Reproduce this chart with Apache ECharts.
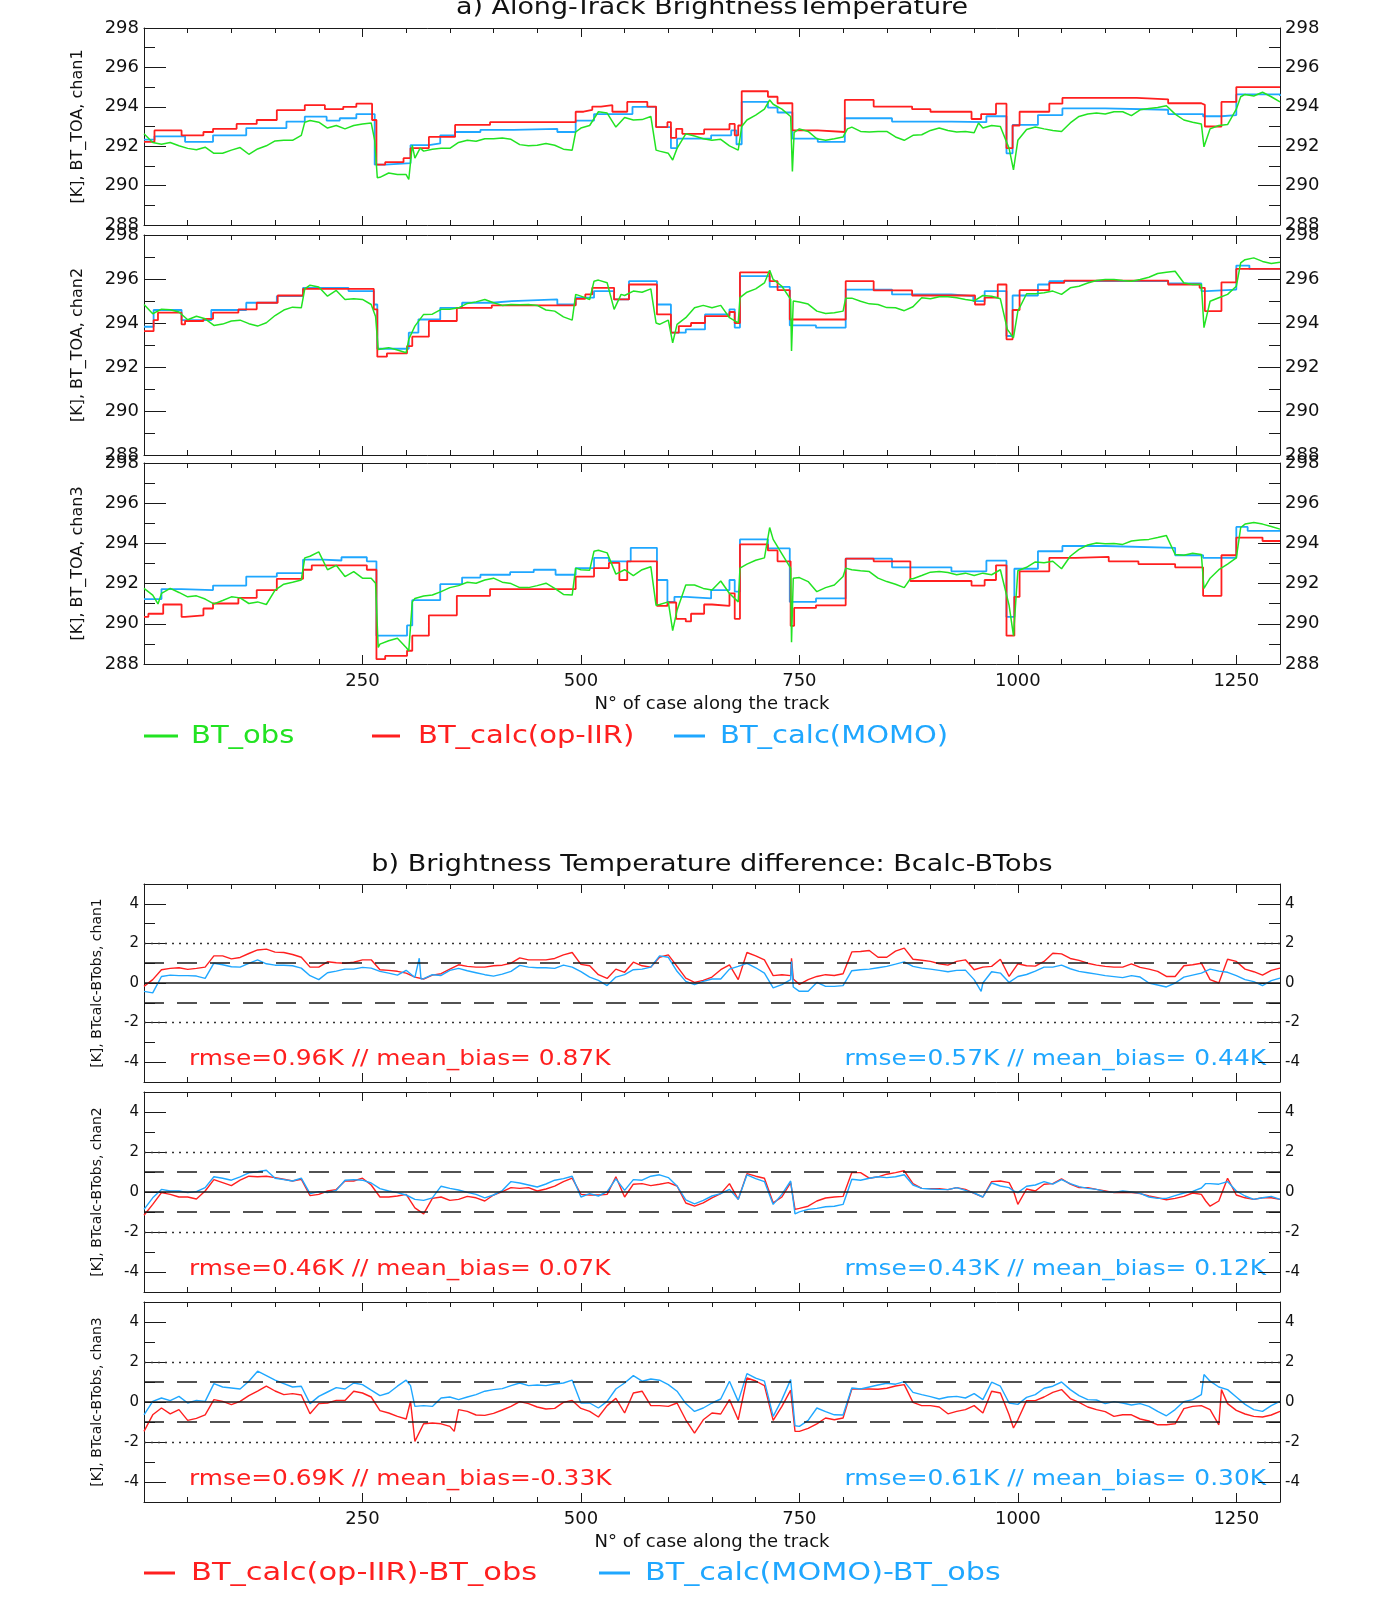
<!DOCTYPE html>
<html><head><meta charset="utf-8">
<script src="https://cdn.jsdelivr.net/npm/echarts@6/dist/echarts.min.js"></script>
<style>html,body{margin:0;padding:0;background:#fff}#c{width:1382px;height:1618px}</style>
</head><body><div id="c"></div>
<script>
// ---------------- DATA ----------------
const xRange = [0, 1300];
const xTickLabels = [250, 500, 750, 1000, 1250];
const btRange = [288, 298];
const diffRange = [-5, 5];
const diffTicks = [-4, -2, 0, 2, 4];
const xName = 'N° of case along the track';
const titleA = 'a) Along-Track BrightnessTemperature';
const titleB = 'b) Brightness Temperature difference: Bcalc-BTobs';
const btNames = ['[K], BT_TOA, chan1', '[K], BT_TOA, chan2', '[K], BT_TOA, chan3'];
const diffNames = ['[K], BTcalc-BTobs, chan1', '[K], BTcalc-BTobs, chan2', '[K], BTcalc-BTobs, chan3'];
const legendTop = ['BT_obs', 'BT_calc(op-IIR)', 'BT_calc(MOMO)'];
const legendBottom = ['BT_calc(op-IIR)-BT_obs', 'BT_calc(MOMO)-BT_obs'];
const statsRed = ['rmse=0.96K // mean_bias= 0.87K', 'rmse=0.46K // mean_bias= 0.07K', 'rmse=0.69K // mean_bias=-0.33K'];
const statsBlue = ['rmse=0.57K // mean_bias= 0.44K', 'rmse=0.43K // mean_bias= 0.12K', 'rmse=0.61K // mean_bias= 0.30K'];

// channel 1 : [case, K]
const c1Red = [[0,292.22],[12,292.8],[43,292.55],[68,292.72],[79,292.88],[106,293.13],[129,293.33],[152,293.83],[184,294.08],[207,293.88],[228,294.0],[243,294.16],[261,293.33],[266,291.06],[276,291.19],[297,291.39],[305,291.9],[326,292.47],[356,293.08],[396,293.22],[494,293.75],[503,293.85],[513,294.01],[523,294.08],[536,293.75],[553,294.25],[576,294.01],[586,292.97],[599,293.22],[603,292.42],[609,292.88],[616,292.63],[641,292.85],[670,293.13],[676,292.55],[680,293.05],[684,294.79],[714,294.51],[725,294.18],[742,292.8],[771,292.72],[802,294.35],[835,294.01],[879,293.88],[900,293.75],[947,293.38],[958,293.63],[975,294.16],[987,291.9],[994,293.05],[1002,293.75],[1036,294.16],[1051,294.45],[1136,294.38],[1172,294.18],[1210,294.1],[1214,293.0],[1233,294.25],[1250,295.0],[1300,295.0]];
const c1Blue = [[0,292.33],[12,292.5],[47,292.22],[79,292.55],[117,292.92],[163,293.25],[184,293.5],[209,293.3],[224,293.42],[243,293.63],[264,291.06],[276,291.14],[305,292.05],[326,292.14],[339,292.55],[356,292.72],[385,292.83],[423,292.88],[473,292.72],[494,293.3],[515,293.63],[559,294.0],[586,292.97],[603,291.9],[610,292.38],[649,292.55],[672,292.8],[678,292.1],[684,294.25],[714,293.96],[725,293.71],[742,292.38],[771,292.22],[802,293.42],[856,293.25],[924,293.22],[964,293.52],[987,291.64],[994,293.08],[1023,293.58],[1051,293.92],[1100,293.85],[1172,293.63],[1212,293.52],[1233,293.58],[1250,294.63],[1300,294.55]];
const c1Obs = [[0,292.63],[10,292.19],[20,292.1],[30,292.19],[40,292.02],[50,291.89],[60,291.82],[70,291.95],[80,291.64],[90,291.64],[100,291.8],[110,291.93],[120,291.59],[130,291.86],[140,292.02],[150,292.27],[160,292.3],[170,292.3],[180,292.55],[184,293.22],[190,293.3],[200,293.22],[210,292.92],[220,293.05],[230,292.88],[240,293.05],[250,293.13],[260,293.18],[264,292.3],[267,290.4],[270,290.42],[280,290.64],[290,290.56],[300,290.56],[303,290.31],[307,292.05],[310,291.39],[316,291.9],[320,291.75],[330,291.85],[340,291.89],[350,291.89],[360,292.19],[370,292.3],[380,292.25],[390,292.38],[400,292.38],[410,292.42],[420,292.35],[430,292.08],[440,292.02],[450,292.05],[460,292.14],[470,292.05],[480,291.85],[490,291.8],[494,292.72],[500,292.92],[510,293.05],[520,293.75],[530,293.68],[540,292.97],[550,293.46],[560,293.33],[570,293.35],[580,293.51],[586,291.8],[590,291.75],[600,291.64],[605,291.3],[610,291.89],[620,292.63],[630,292.52],[640,292.38],[650,292.3],[660,292.35],[670,292.02],[680,291.8],[684,293.0],[690,293.33],[700,293.58],[710,293.88],[716,294.35],[720,294.13],[730,293.88],[740,293.51],[742,290.72],[744,292.7],[750,292.88],[760,292.75],[770,292.38],[780,292.3],[790,292.38],[800,292.47],[805,292.88],[810,292.97],[820,292.75],[830,292.72],[840,292.75],[850,292.75],[860,292.47],[870,292.3],[880,292.55],[890,292.58],[900,292.8],[910,292.92],[920,292.8],[930,292.72],[940,292.75],[950,292.68],[955,293.18],[960,292.92],[970,293.05],[980,293.0],[990,291.89],[995,290.8],[1000,292.3],[1010,292.85],[1020,292.97],[1030,292.88],[1040,292.8],[1050,292.75],[1060,293.18],[1070,293.51],[1080,293.63],[1090,293.68],[1100,293.63],[1110,293.75],[1120,293.75],[1130,293.55],[1140,293.85],[1150,293.91],[1160,293.96],[1170,294.05],[1180,293.63],[1190,293.33],[1200,293.22],[1210,293.13],[1213,291.97],[1220,292.88],[1230,293.05],[1240,293.1],[1250,293.88],[1255,294.51],[1260,294.63],[1270,294.55],[1280,294.74],[1290,294.51],[1300,294.25]];

// channel 2
const c2Red = [[0,293.63],[11,294.13],[16,294.47],[43,293.94],[47,294.09],[68,294.19],[79,294.47],[108,294.62],[129,294.92],[153,295.25],[182,295.55],[263,294.62],[267,292.47],[278,292.62],[301,292.95],[307,293.38],[326,294.09],[358,294.69],[398,294.8],[494,295.1],[505,295.3],[513,295.6],[538,295.07],[555,295.75],[587,294.39],[603,293.56],[612,293.86],[626,294.0],[642,294.31],[670,294.5],[676,294.0],[682,296.3],[716,295.9],[725,295.49],[739,294.16],[803,295.9],[835,295.48],[879,295.25],[951,294.84],[962,295.15],[977,295.75],[987,293.26],[994,294.59],[1002,295.49],[1036,295.82],[1053,295.93],[1172,295.75],[1208,295.6],[1214,294.54],[1233,295.85],[1250,296.46],[1300,296.46]];
const c2Blue = [[0,293.83],[11,294.59],[43,294.13],[77,294.59],[117,294.92],[152,295.22],[182,295.6],[234,295.45],[263,294.84],[267,292.83],[303,293.56],[314,294.16],[339,294.69],[364,294.92],[398,294.99],[421,295.07],[473,294.84],[494,295.15],[515,295.45],[538,295.07],[555,295.9],[587,294.84],[603,293.56],[620,293.71],[642,294.39],[670,294.62],[676,293.79],[682,296.13],[716,295.64],[739,293.89],[769,293.79],[803,295.52],[856,295.3],[924,295.22],[949,294.99],[962,295.45],[987,293.41],[994,295.25],[1023,295.75],[1036,295.9],[1172,295.8],[1210,295.45],[1216,295.52],[1250,296.61],[1265,296.46],[1300,296.46]];
const c2Obs = [[0,294.84],[10,294.42],[20,294.63],[30,294.6],[40,294.5],[50,294.15],[60,294.31],[70,294.19],[80,293.89],[90,293.95],[100,294.09],[110,294.13],[120,293.97],[130,293.86],[140,294.01],[150,294.34],[160,294.59],[170,294.72],[180,294.69],[184,295.55],[190,295.72],[200,295.64],[210,295.22],[220,295.48],[230,295.07],[240,295.1],[250,295.07],[260,294.84],[265,294.3],[268,292.8],[270,292.82],[280,292.88],[290,292.77],[300,292.65],[303,293.26],[310,293.86],[320,294.39],[330,294.4],[340,294.62],[350,294.62],[360,294.69],[370,294.89],[380,294.96],[390,295.07],[400,294.92],[410,294.8],[420,294.84],[430,294.83],[440,294.84],[450,294.8],[460,294.59],[470,294.54],[480,294.28],[490,294.13],[494,295.3],[500,295.22],[510,295.07],[515,295.9],[520,295.95],[530,295.83],[538,294.62],[540,294.59],[546,295.3],[550,295.25],[560,295.45],[570,295.4],[580,295.55],[586,294.0],[590,293.94],[600,294.13],[605,293.1],[610,293.94],[620,294.24],[630,294.69],[640,294.8],[650,294.69],[660,294.8],[670,294.24],[680,294.01],[682,295.15],[690,295.4],[700,295.55],[710,295.82],[716,296.4],[720,295.98],[730,295.67],[740,295.07],[741,292.73],[743,295.0],[750,294.95],[760,294.86],[770,294.54],[780,294.43],[790,294.47],[800,294.54],[803,295.13],[810,295.13],[820,294.99],[830,294.87],[840,294.84],[850,294.7],[860,294.69],[870,294.56],[880,294.74],[890,295.15],[900,295.1],[910,295.19],[920,295.19],[930,295.15],[940,295.07],[950,295.01],[960,295.25],[970,295.22],[980,295.1],[988,293.71],[995,293.33],[1000,294.54],[1010,295.33],[1020,295.33],[1030,295.37],[1040,295.45],[1050,295.3],[1060,295.6],[1070,295.67],[1080,295.82],[1090,295.93],[1100,295.98],[1110,295.98],[1120,295.93],[1130,295.9],[1140,295.98],[1150,296.08],[1160,296.25],[1170,296.31],[1180,296.35],[1190,295.82],[1200,295.75],[1210,295.75],[1213,293.79],[1220,294.99],[1230,295.15],[1240,295.3],[1250,295.67],[1255,296.73],[1260,296.88],[1270,296.96],[1280,296.8],[1290,296.7],[1300,296.76]];

// channel 3
const c3Red = [[0,290.34],[5,290.5],[22,290.96],[43,290.34],[47,290.42],[68,290.76],[79,291.01],[108,291.29],[129,291.68],[152,292.24],[182,292.69],[192,292.91],[255,292.69],[266,288.24],[276,288.4],[301,288.66],[307,289.41],[326,290.42],[358,291.39],[396,291.73],[494,292.35],[515,292.77],[532,293.03],[544,292.18],[553,293.11],[587,290.89],[599,291.06],[609,290.25],[620,290.12],[626,290.5],[641,290.96],[650,290.89],[670,291.51],[676,290.25],[682,293.95],[714,293.65],[725,293.11],[740,289.9],[744,290.79],[769,290.92],[803,293.24],[835,293.11],[877,292.13],[947,291.9],[962,292.18],[975,292.91],[987,289.41],[996,291.34],[1002,292.61],[1036,293.28],[1066,293.33],[1104,293.11],[1138,292.97],[1180,292.81],[1212,291.39],[1233,293.41],[1250,294.29],[1280,294.12],[1300,294.12]];
const c3Blue = [[0,291.23],[20,291.73],[43,291.68],[79,291.9],[117,292.35],[152,292.52],[182,293.19],[205,293.15],[226,293.31],[255,293.11],[266,289.41],[301,289.92],[307,291.18],[339,291.97],[364,292.3],[385,292.44],[419,292.57],[446,292.69],[471,292.44],[494,292.77],[515,293.28],[532,293.11],[557,293.78],[587,292.18],[599,291.09],[607,291.34],[620,291.26],[649,291.68],[670,292.18],[676,291.6],[682,294.2],[714,293.75],[739,291.09],[769,291.26],[803,293.24],[856,292.81],[924,292.61],[964,293.14],[987,290.34],[996,292.74],[1023,293.61],[1051,293.87],[1100,293.78],[1180,293.41],[1212,293.28],[1250,294.82],[1263,294.62],[1300,294.62]];
const c3Obs = [[0,291.76],[10,291.43],[16,290.99],[20,291.51],[30,291.76],[40,291.56],[50,291.34],[60,291.39],[70,291.23],[80,290.99],[90,291.16],[100,291.34],[110,291.29],[120,291.01],[130,291.09],[140,290.96],[150,291.68],[160,291.97],[170,292.07],[180,292.18],[184,293.28],[190,293.36],[200,293.58],[210,292.69],[220,292.91],[230,292.35],[240,292.6],[250,292.27],[260,292.27],[265,292.02],[268,288.82],[270,288.99],[280,289.16],[290,289.28],[300,288.82],[303,288.66],[307,291.09],[310,291.26],[320,291.38],[330,291.43],[340,291.6],[350,291.8],[360,291.9],[370,292.07],[380,292.02],[390,292.18],[400,292.27],[410,292.07],[420,292.0],[430,291.8],[440,291.8],[450,291.9],[460,292.02],[470,291.76],[480,291.46],[490,291.43],[494,292.77],[500,292.69],[510,292.67],[515,293.61],[520,293.66],[530,293.53],[540,292.47],[550,292.69],[560,292.4],[570,292.69],[580,292.84],[586,290.92],[590,290.96],[600,291.09],[605,289.66],[610,290.67],[620,291.93],[630,291.93],[640,291.76],[650,291.68],[660,292.13],[670,291.51],[680,291.09],[682,292.77],[690,292.97],[700,293.16],[710,293.28],[716,294.79],[720,294.2],[730,293.48],[740,292.77],[741,289.08],[743,292.27],[750,292.3],[760,292.1],[770,291.6],[780,291.8],[790,291.93],[800,292.35],[803,292.77],[810,292.69],[820,292.64],[830,292.6],[840,292.27],[850,292.1],[860,291.97],[870,291.8],[877,292.24],[880,292.24],[890,292.4],[900,292.57],[910,292.6],[920,292.55],[930,292.44],[940,292.52],[950,292.4],[960,292.52],[970,292.44],[980,292.69],[990,290.92],[995,289.41],[1000,292.64],[1010,292.81],[1020,293.08],[1030,293.04],[1040,293.11],[1050,292.74],[1060,293.36],[1070,293.7],[1080,293.92],[1090,294.02],[1100,293.98],[1110,294.0],[1120,293.95],[1130,294.12],[1140,294.17],[1150,294.2],[1160,294.29],[1170,294.39],[1180,293.45],[1190,293.41],[1200,293.51],[1210,293.45],[1213,291.76],[1220,292.27],[1230,292.69],[1240,292.97],[1250,293.28],[1255,294.79],[1260,294.96],[1270,295.04],[1280,294.96],[1290,294.84],[1300,294.71]];

// differences (calc - obs), [case, K]
const d1Red = [[0,-0.17],[10,0.17],[20,0.67],[30,0.74],[40,0.77],[50,0.69],[60,0.74],[70,0.8],[80,1.37],[90,1.37],[100,1.22],[110,1.29],[120,1.49],[130,1.67],[140,1.71],[150,1.56],[160,1.54],[170,1.44],[180,1.3],[190,0.8],[200,0.8],[210,1.07],[220,1.02],[230,1.0],[240,1.05],[250,1.17],[260,1.17],[270,0.67],[280,0.64],[290,0.59],[300,0.5],[310,0.3],[320,0.2],[330,0.4],[340,0.47],[350,0.7],[360,0.92],[370,0.84],[380,0.8],[390,0.8],[400,0.87],[410,0.9],[420,1.0],[430,1.27],[440,1.17],[450,1.17],[460,1.17],[470,1.24],[480,1.42],[490,1.54],[500,0.94],[510,0.87],[520,0.42],[530,0.23],[540,0.7],[550,0.54],[560,1.05],[570,0.87],[580,0.8],[590,1.3],[600,1.42],[610,0.84],[620,0.25],[630,0.03],[640,0.13],[650,0.3],[660,0.67],[670,0.92],[680,0.17],[690,1.54],[700,1.37],[710,1.17],[720,0.37],[730,0.42],[740,0.37],[741,1.25],[743,0.2],[750,-0.07],[760,0.17],[770,0.33],[780,0.42],[790,0.38],[800,0.47],[810,1.57],[820,1.59],[830,1.64],[840,1.3],[850,1.3],[860,1.61],[870,1.76],[880,1.2],[890,1.15],[900,1.09],[910,0.97],[920,0.9],[930,1.09],[940,1.17],[950,0.67],[960,0.8],[970,0.84],[980,1.2],[990,0.33],[1000,0.97],[1010,0.87],[1020,0.85],[1030,1.09],[1040,1.5],[1050,1.47],[1060,1.24],[1070,1.14],[1080,1.0],[1090,0.9],[1100,0.84],[1110,0.8],[1120,0.8],[1130,0.97],[1140,0.79],[1150,0.7],[1160,0.59],[1170,0.33],[1180,0.33],[1190,0.87],[1200,0.92],[1210,1.0],[1220,0.17],[1230,0.0],[1240,1.2],[1250,1.09],[1260,0.7],[1270,0.57],[1280,0.4],[1290,0.64],[1300,0.75]];
const d1Blue = [[0,-0.42],[10,-0.5],[20,0.33],[30,0.4],[40,0.37],[50,0.37],[60,0.35],[70,0.23],[80,1.0],[90,0.92],[100,0.82],[110,0.8],[120,0.99],[130,1.17],[140,0.97],[150,0.9],[160,0.9],[170,0.87],[180,0.75],[190,0.37],[200,0.17],[210,0.52],[220,0.6],[230,0.7],[240,0.7],[250,0.79],[260,0.75],[270,0.59],[280,0.5],[290,0.4],[300,0.64],[310,0.28],[315,1.25],[317,0.2],[320,0.22],[330,0.42],[340,0.38],[350,0.64],[360,0.74],[370,0.62],[380,0.52],[390,0.42],[400,0.35],[410,0.45],[420,0.59],[430,0.89],[440,0.8],[450,0.77],[460,0.77],[470,0.74],[480,0.9],[490,0.8],[500,0.57],[510,0.3],[520,0.13],[530,-0.13],[540,0.3],[550,0.42],[560,0.67],[570,0.7],[580,0.8],[590,1.37],[600,1.3],[610,0.59],[620,0.08],[630,-0.08],[640,0.08],[650,0.2],[660,0.2],[670,0.7],[680,0.84],[690,0.99],[700,0.77],[710,0.5],[720,-0.25],[730,-0.08],[740,0.17],[741,1.09],[743,-0.2],[750,-0.42],[760,-0.42],[770,0.03],[780,-0.17],[790,-0.17],[800,-0.13],[810,0.62],[820,0.67],[830,0.7],[840,0.77],[850,0.84],[860,0.95],[870,1.07],[880,0.84],[890,0.75],[900,0.7],[910,0.64],[920,0.57],[930,0.64],[940,0.65],[950,0.17],[958,-0.42],[960,0.0],[970,0.57],[980,0.5],[990,0.03],[1000,0.33],[1010,0.43],[1020,0.6],[1030,0.8],[1040,0.8],[1050,0.9],[1060,0.72],[1070,0.59],[1080,0.52],[1090,0.45],[1100,0.37],[1110,0.32],[1120,0.27],[1130,0.37],[1140,0.3],[1150,0.0],[1160,-0.1],[1170,-0.2],[1180,0.0],[1190,0.3],[1200,0.4],[1210,0.5],[1220,0.7],[1230,0.6],[1240,0.54],[1250,0.37],[1260,0.17],[1270,0.07],[1280,-0.13],[1290,0.12],[1300,0.25]];
const d2Red = [[0,-1.16],[10,-0.62],[20,-0.03],[30,-0.12],[40,-0.25],[50,-0.25],[60,-0.35],[70,0.05],[80,0.62],[90,0.47],[100,0.32],[110,0.59],[120,0.79],[130,0.76],[140,0.79],[150,0.72],[160,0.64],[170,0.55],[180,0.64],[190,-0.18],[200,-0.12],[210,0.05],[220,0.12],[230,0.55],[240,0.55],[250,0.69],[260,0.35],[270,-0.25],[280,-0.25],[290,-0.2],[300,-0.12],[310,-0.79],[320,-1.09],[330,-0.32],[340,-0.25],[350,-0.42],[360,-0.37],[370,-0.22],[380,-0.29],[390,-0.45],[400,-0.15],[410,0.02],[420,0.22],[430,0.18],[440,0.22],[450,0.05],[460,0.15],[470,0.29],[480,0.52],[490,0.69],[500,-0.12],[510,-0.15],[520,-0.15],[530,-0.12],[540,0.76],[550,-0.25],[560,0.39],[570,0.42],[580,0.32],[590,0.39],[600,0.47],[610,0.3],[620,-0.55],[630,-0.71],[640,-0.54],[650,-0.29],[660,-0.08],[670,0.42],[680,-0.37],[690,0.92],[700,0.79],[710,0.69],[720,-0.54],[730,-0.25],[740,0.47],[745,-0.87],[750,-0.82],[760,-0.71],[770,-0.45],[780,-0.3],[790,-0.25],[800,-0.22],[810,0.97],[820,0.97],[830,0.69],[840,0.76],[850,0.89],[860,0.97],[870,1.06],[880,0.42],[890,0.18],[900,0.17],[910,0.17],[920,0.12],[930,0.22],[940,0.13],[950,-0.07],[960,-0.25],[970,0.52],[980,0.55],[990,0.47],[995,0.05],[1000,-0.62],[1010,0.15],[1020,0.05],[1030,0.39],[1040,0.42],[1050,0.66],[1060,0.39],[1070,0.22],[1080,0.22],[1090,0.13],[1100,0.05],[1110,-0.03],[1120,-0.03],[1130,-0.03],[1140,-0.08],[1150,-0.2],[1160,-0.29],[1170,-0.39],[1180,-0.32],[1190,-0.22],[1200,-0.05],[1210,-0.12],[1215,-0.45],[1220,-0.71],[1230,-0.45],[1240,0.69],[1250,-0.15],[1260,-0.29],[1270,-0.37],[1280,-0.29],[1290,-0.29],[1300,-0.37]];
const d2Blue = [[0,-0.87],[10,-0.29],[20,0.13],[30,0.05],[40,0.05],[50,-0.03],[60,0.02],[70,0.22],[80,0.76],[90,0.69],[100,0.59],[110,0.76],[120,0.96],[130,1.01],[140,1.09],[150,0.69],[160,0.62],[170,0.55],[180,0.69],[190,-0.08],[200,0.02],[210,-0.03],[220,0.08],[230,0.59],[240,0.62],[250,0.59],[260,0.45],[270,0.17],[280,0.05],[290,-0.03],[300,-0.15],[310,-0.37],[320,-0.42],[330,-0.29],[340,0.29],[350,0.18],[360,0.1],[370,-0.02],[380,-0.12],[390,-0.29],[400,-0.15],[410,0.07],[420,0.52],[430,0.45],[440,0.35],[450,0.25],[460,0.4],[470,0.59],[480,0.67],[490,0.79],[500,-0.25],[510,-0.08],[520,-0.2],[530,0.02],[540,0.66],[550,0.08],[560,0.62],[570,0.59],[580,0.79],[590,0.86],[600,0.72],[610,0.3],[620,-0.39],[630,-0.59],[640,-0.42],[650,-0.2],[660,-0.08],[670,0.13],[680,-0.37],[690,0.86],[700,0.67],[710,0.52],[720,-0.62],[730,-0.12],[740,0.55],[745,-1.09],[750,-0.99],[760,-0.87],[770,-0.82],[780,-0.74],[790,-0.71],[800,-0.62],[810,0.64],[820,0.59],[830,0.69],[840,0.76],[850,0.72],[860,0.76],[870,0.86],[880,0.35],[890,0.18],[900,0.15],[910,0.13],[920,0.12],[930,0.22],[940,0.08],[950,-0.05],[960,-0.25],[970,0.45],[980,0.3],[990,0.22],[995,0.05],[1000,-0.03],[1010,0.29],[1020,0.35],[1030,0.52],[1040,0.39],[1050,0.62],[1060,0.42],[1070,0.27],[1080,0.18],[1090,0.13],[1100,0.02],[1110,-0.02],[1120,0.05],[1130,0.0],[1140,-0.07],[1150,-0.25],[1160,-0.32],[1170,-0.32],[1180,-0.18],[1190,-0.05],[1200,0.03],[1210,0.2],[1215,0.42],[1220,0.42],[1230,0.39],[1240,0.52],[1250,0.05],[1260,-0.2],[1270,-0.37],[1280,-0.29],[1290,-0.22],[1300,-0.37]];
const d3Red = [[0,-1.47],[10,-0.64],[20,-0.3],[30,-0.59],[40,-0.38],[50,-0.92],[60,-0.82],[70,-0.64],[80,0.12],[90,0.03],[100,-0.13],[110,0.03],[120,0.32],[130,0.54],[140,0.79],[150,0.55],[160,0.37],[170,0.42],[180,0.35],[190,-0.59],[200,-0.08],[210,-0.05],[220,0.08],[230,0.08],[240,0.54],[250,0.45],[260,0.25],[270,-0.43],[280,-0.55],[290,-0.72],[300,-0.85],[305,0.03],[310,-1.97],[320,-1.09],[330,-1.05],[340,-1.09],[350,-1.22],[355,-1.47],[360,-0.38],[370,-0.47],[380,-0.65],[390,-0.67],[400,-0.57],[410,-0.4],[420,-0.22],[430,0.02],[440,-0.08],[450,-0.25],[460,-0.35],[470,-0.32],[480,-0.02],[490,0.08],[500,-0.32],[510,-0.47],[520,-0.75],[530,-0.18],[540,0.18],[550,-0.55],[560,0.45],[570,0.54],[580,-0.18],[590,-0.18],[600,-0.22],[610,-0.05],[620,-0.89],[630,-1.56],[640,-0.89],[650,-0.55],[660,-0.6],[670,0.12],[680,-0.89],[690,1.2],[700,1.05],[710,0.82],[720,-0.92],[730,-0.22],[740,0.59],[745,-1.47],[750,-1.47],[760,-1.32],[770,-1.09],[780,-0.8],[790,-0.89],[800,-0.8],[810,0.65],[820,0.65],[830,0.65],[840,0.64],[850,0.69],[860,0.8],[870,0.87],[880,-0.02],[890,-0.18],[900,-0.18],[910,-0.25],[920,-0.59],[930,-0.47],[940,-0.38],[950,-0.18],[960,-0.55],[970,0.54],[980,0.45],[990,-0.64],[995,-1.3],[1000,-0.89],[1010,0.07],[1020,0.07],[1030,0.25],[1040,0.48],[1050,0.62],[1060,0.17],[1070,-0.02],[1080,-0.25],[1090,-0.38],[1100,-0.48],[1110,-0.72],[1120,-0.64],[1130,-0.64],[1140,-0.85],[1150,-0.95],[1160,-1.14],[1170,-1.14],[1180,-1.09],[1190,-0.33],[1200,-0.22],[1210,-0.18],[1220,-0.38],[1230,-1.14],[1233,0.62],[1240,-0.08],[1250,-0.42],[1260,-0.6],[1270,-0.72],[1280,-0.75],[1290,-0.65],[1300,-0.47]];
const d3Blue = [[0,-0.64],[10,0.03],[20,0.2],[30,0.07],[40,0.28],[50,-0.05],[60,0.08],[70,0.03],[80,0.92],[90,0.75],[100,0.7],[110,0.65],[120,1.04],[130,1.54],[140,1.32],[150,1.09],[160,0.92],[170,0.75],[180,0.79],[190,-0.08],[200,0.28],[210,0.5],[220,0.72],[230,0.65],[240,0.95],[250,0.87],[260,0.59],[270,0.32],[280,0.45],[290,0.79],[300,1.09],[305,0.82],[310,-0.22],[320,-0.18],[330,-0.22],[340,0.2],[350,0.25],[360,0.12],[370,0.25],[380,0.37],[390,0.54],[400,0.62],[410,0.67],[420,0.82],[430,0.95],[440,0.82],[450,0.85],[460,0.82],[470,0.9],[480,0.95],[490,1.09],[500,-0.05],[510,-0.05],[520,-0.3],[530,0.03],[540,0.65],[550,0.95],[560,1.32],[570,1.04],[580,1.15],[590,1.09],[600,0.87],[610,0.54],[620,-0.08],[630,-0.47],[640,-0.3],[650,-0.05],[660,0.15],[670,1.04],[680,0.03],[690,1.42],[700,1.19],[710,1.04],[720,-0.72],[730,0.12],[740,1.12],[745,-1.19],[750,-1.22],[760,-0.92],[770,-0.3],[780,-0.48],[790,-0.64],[800,-0.65],[810,0.7],[820,0.65],[830,0.75],[840,0.85],[850,0.94],[860,0.89],[870,1.02],[880,0.48],[890,0.37],[900,0.27],[910,0.15],[920,0.25],[930,0.28],[940,0.2],[950,0.42],[960,0.12],[970,0.99],[980,0.79],[990,-0.05],[1000,-0.12],[1010,0.23],[1020,0.37],[1030,0.69],[1040,0.79],[1050,1.0],[1060,0.62],[1070,0.32],[1080,0.12],[1090,0.1],[1100,-0.08],[1110,0.02],[1120,-0.05],[1130,-0.15],[1140,-0.08],[1150,-0.22],[1160,-0.47],[1170,-0.69],[1180,-0.38],[1190,0.02],[1200,0.12],[1210,0.37],[1213,1.37],[1220,1.04],[1230,0.75],[1240,0.62],[1250,0.25],[1260,-0.12],[1270,-0.38],[1280,-0.47],[1290,-0.18],[1300,0.03]];

// ---------------- LAYOUT / STYLE ----------------
const FONT = 'DejaVu Sans';
const AX = '#1a1a1a';
const GREEN = '#22e322', RED = '#ff1f1f', BLUE = '#1fa7ff';
const LEFT = 144, WIDTH = 1136;
const boxes = [
  {top: 28, height: 197}, {top: 235, height: 220}, {top: 463, height: 201},
  {top: 884, height: 198}, {top: 1092, height: 200}, {top: 1302, height: 200}
];

const grids = [], xAxes = [], yAxes = [], series = [];
const lineS = {color: AX, width: 1};

function addPanel(gi, kind, yName, showX) {
  const b = boxes[gi];
  grids.push({left: LEFT, top: b.top, width: WIDTH, height: b.height, show: false});
  const bt = kind === 'bt';
  const yr = bt ? btRange : diffRange;
  const xb = {gridIndex: gi, type: 'value', min: xRange[0], max: xRange[1], splitLine: {show: false}};
  xAxes.push(Object.assign({}, xb, {position: 'bottom', interval: 50,
    axisLine: {show: true, onZero: false, lineStyle: lineS},
    axisTick: {show: true, inside: true, length: 5, lineStyle: lineS},
    axisLabel: {show: false},
    name: showX ? xName : '', nameLocation: 'middle', nameGap: 31,
    nameTextStyle: {fontSize: 18, fontFamily: FONT, color: '#111'}}));
  xAxes.push(Object.assign({}, xb, {position: 'bottom', interval: 250,
    axisLine: {show: false, onZero: false},
    axisTick: {show: true, inside: true, length: 9, lineStyle: lineS},
    axisLabel: {show: showX, fontSize: 18, fontFamily: FONT, color: '#111', margin: 8,
      formatter: v => xTickLabels.includes(v) ? String(v) : ''}}));
  xAxes.push(Object.assign({}, xb, {position: 'top', interval: 50,
    axisLine: {show: true, onZero: false, lineStyle: lineS},
    axisTick: {show: true, inside: true, length: 5, lineStyle: lineS},
    axisLabel: {show: false}}));
  xAxes.push(Object.assign({}, xb, {position: 'top', interval: 250,
    axisLine: {show: false, onZero: false},
    axisTick: {show: true, inside: true, length: 9, lineStyle: lineS},
    axisLabel: {show: false}}));
  const yb = {gridIndex: gi, type: 'value', min: yr[0], max: yr[1], splitLine: {show: false}};
  const lab = {show: true, fontSize: bt ? 18 : 15, fontFamily: FONT, color: '#111', margin: 5};
  ['left', 'right'].forEach(pos => {
    const longAx = Object.assign({}, yb, {position: pos, interval: bt ? 2 : 1,
      axisLine: {show: true, onZero: false, lineStyle: lineS},
      axisTick: bt ? {show: true, inside: true, length: 22, lineStyle: lineS}
                   : {show: true, inside: true, length: 22, lineStyle: lineS, customValues: diffTicks},
      axisLabel: bt ? lab : Object.assign({}, lab, {customValues: diffTicks})});
    if (pos === 'left') {
      Object.assign(longAx, {name: yName, nameLocation: 'middle', nameRotate: 90, nameGap: bt ? 58 : 40,
        nameTextStyle: {fontSize: bt ? 16 : 14, fontFamily: FONT, color: '#111'}});
    }
    yAxes.push(longAx);
    yAxes.push(Object.assign({}, yb, {position: pos, interval: 1,
      axisLine: {show: false, onZero: false},
      axisTick: {show: true, inside: true, length: 11, lineStyle: lineS},
      axisLabel: {show: false}}));
  });
}

function lineSeries(gi, data, color, width, step, extra) {
  return Object.assign({type: 'line', xAxisIndex: gi * 4, yAxisIndex: gi * 4, data: data,
    symbol: 'none', showSymbol: false, step: step || false, animation: false, silent: true,
    lineStyle: {color: color, width: width}, itemStyle: {color: color}}, extra || {});
}

const btSets = [[c1Obs, c1Red, c1Blue], [c2Obs, c2Red, c2Blue], [c3Obs, c3Red, c3Blue]];
btSets.forEach((s, i) => {
  addPanel(i, 'bt', btNames[i], i === 2);
  series.push(lineSeries(i, s[2], BLUE, 1.8, 'end'));
  series.push(lineSeries(i, s[1], RED, 1.8, 'end'));
  series.push(lineSeries(i, s[0], GREEN, 1.5));
});

const diffSets = [[d1Red, d1Blue], [d2Red, d2Blue], [d3Red, d3Blue]];
const refLines = {silent: true, symbol: 'none', label: {show: false}, animation: false,
  data: [
    {yAxis: 0, lineStyle: {type: 'solid', color: AX, width: 1.5}},
    {yAxis: 1, lineStyle: {type: [20, 13], color: AX, width: 1.5}},
    {yAxis: -1, lineStyle: {type: [20, 13], color: AX, width: 1.5}},
    {yAxis: 2, lineStyle: {type: [2, 5], color: '#333', width: 1.4}},
    {yAxis: -2, lineStyle: {type: [2, 5], color: '#333', width: 1.4}}
  ]};
diffSets.forEach((s, i) => {
  const gi = i + 3;
  addPanel(gi, 'diff', diffNames[i], i === 2);
  series.push(lineSeries(gi, s[0], RED, 1.4, false, {markLine: refLines}));
  series.push(lineSeries(gi, s[1], BLUE, 1.4));
});

// ---------------- TEXT / LEGEND GRAPHICS ----------------
function txt(x, y, str, color, size, sx, align) {
  return {type: 'text', x: x, y: y, scaleX: sx, silent: true,
    style: {text: str, fill: color, fontSize: size, fontFamily: FONT,
      textAlign: align, align: align, textVerticalAlign: 'middle', verticalAlign: 'middle'}};
}
function seg(x1, x2, y, color) {
  return {type: 'line', silent: true, shape: {x1: x1, y1: y, x2: x2, y2: y},
    style: {stroke: color, lineWidth: 3}};
}
const graphics = [
  txt(712, 8, titleA, '#111', 23, 1.17, 'center'),
  txt(712, 865, titleB, '#111', 23, 1.175, 'center'),
  seg(144, 178, 736, GREEN), txt(191, 736, legendTop[0], GREEN, 25, 1.16, 'left'),
  seg(372, 400, 736, RED), txt(418, 736, legendTop[1], RED, 25, 1.16, 'left'),
  seg(674, 705, 736, BLUE), txt(720, 736, legendTop[2], BLUE, 25, 1.16, 'left'),
  seg(144, 175, 1573, RED), txt(191, 1573, legendBottom[0], RED, 25, 1.22, 'left'),
  seg(599, 630, 1573, BLUE), txt(645, 1573, legendBottom[1], BLUE, 25, 1.21, 'left')
];
[3, 4, 5].forEach((gi, i) => {
  const y = boxes[gi].top + boxes[gi].height - 23;
  graphics.push(txt(189, y, statsRed[i], RED, 22, 1.13, 'left'));
  graphics.push(txt(1266, y, statsBlue[i], BLUE, 22, 1.13, 'right'));
});

const chart = echarts.init(document.getElementById('c'), null, {renderer: 'canvas', width: 1382, height: 1618});
chart.setOption({
  animation: false,
  backgroundColor: '#fff',
  textStyle: {fontFamily: FONT},
  grid: grids, xAxis: xAxes, yAxis: yAxes, series: series, graphic: graphics
});
</script></body></html>
